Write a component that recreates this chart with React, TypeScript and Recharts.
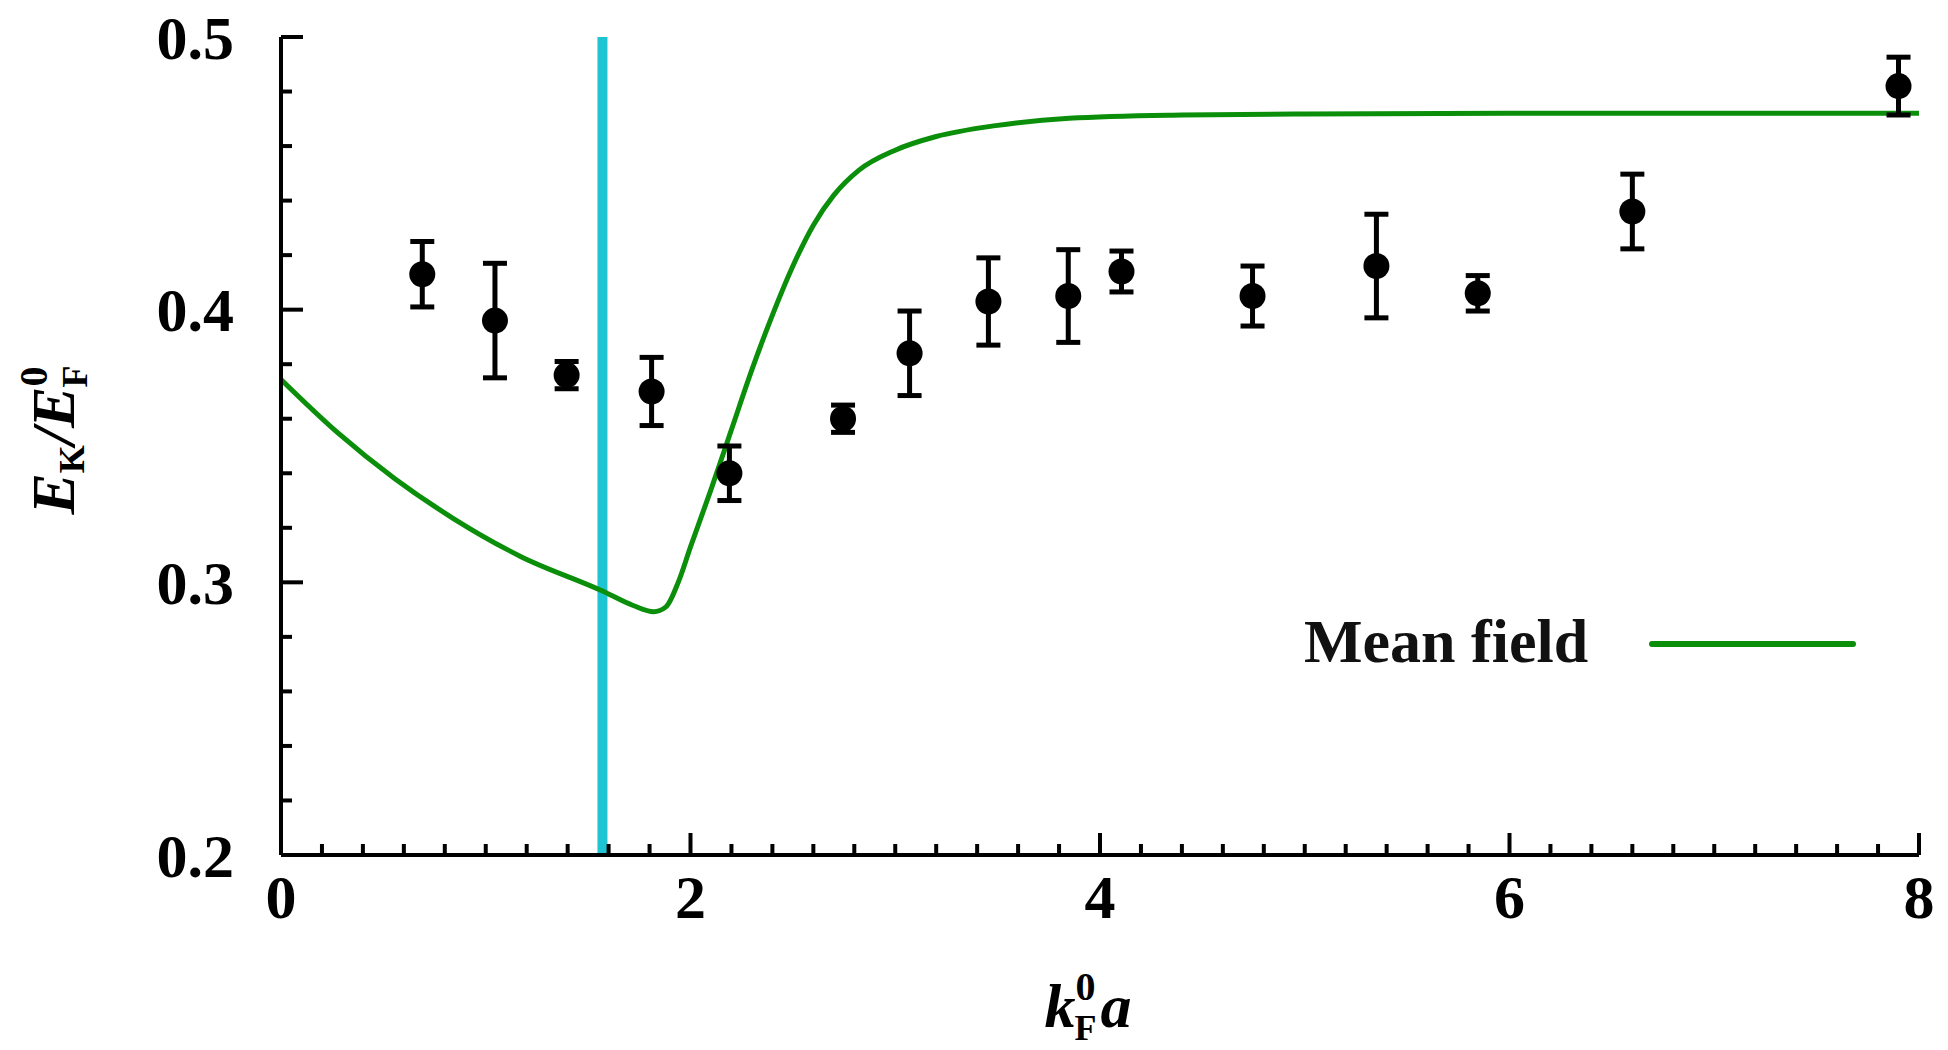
import React from "react";
import {
  ComposedChart,
  Line,
  Scatter,
  ErrorBar,
  XAxis,
  YAxis,
  ReferenceLine,
  Legend,
} from "recharts";

// mean field curve
const curveX = [0, 0.275, 0.556, 0.84, 1.17, 1.565, 1.72, 1.82, 1.88, 1.94, 2.0, 2.1, 2.2, 2.3, 2.4, 2.5, 2.6, 2.7, 2.82, 3.0, 3.2, 3.49, 3.85, 4.4, 5, 6, 7, 8];
const curveY = [0.3744, 0.355, 0.338, 0.3235, 0.3095, 0.297, 0.2915, 0.2892, 0.291, 0.3, 0.313, 0.334, 0.356, 0.378, 0.398, 0.416, 0.431, 0.442, 0.451, 0.4585, 0.4635, 0.4675, 0.4702, 0.4714, 0.4718, 0.472, 0.472, 0.472];

// QMC points with error bars
const pointX = [0.69, 1.045, 1.395, 1.81, 2.19, 2.745, 3.07, 3.455, 3.845, 4.105, 4.745, 5.35, 5.845, 6.6, 7.9];
const pointY = [0.413, 0.396, 0.376, 0.37, 0.34, 0.36, 0.384, 0.403, 0.405, 0.414, 0.405, 0.416, 0.406, 0.436, 0.482];
const pointErr = [0.012, 0.021, 0.005, 0.0125, 0.01, 0.005, 0.0155, 0.016, 0.017, 0.0075, 0.011, 0.019, 0.0065, 0.0137, 0.0106];

const unitaryX = 1.57;

const xMajor = [0, 2, 4, 6, 8];
const yMajor = [0.2, 0.3, 0.4, 0.5];
const xMinorStep = 0.2;
const yMinorStep = 0.02;

const subdivide = (major: number[], step: number) => {
  const out: number[] = [];
  const n = Math.round((major[major.length - 1] - major[0]) / step);
  for (let i = 0; i <= n; i++) out.push(+(major[0] + i * step).toFixed(4));
  return out;
};
const xTicks = subdivide(xMajor, xMinorStep);
const yTicks = subdivide(yMajor, yMinorStep);
const isMajor = (v: number, major: number[]) => major.some((m) => Math.abs(m - v) < 1e-6);

const curve = curveX.map((x, i) => ({ x, y: curveY[i] }));
const points = pointX.map((x, i) => ({ x, y: pointY[i], err: pointErr[i] }));

const FONT = "'Liberation Serif', 'Times New Roman', serif";
const FS = 62;
const MAJOR_LEN = 22;
const MINOR_LEN = 11;
const TICK_W = 4;

const BottomTick = (props: any) => {
  const { x, y, payload } = props;
  const major = isMajor(payload.value, xMajor);
  return (
    <g>
      <line x1={x} x2={x} y1={y} y2={y - (major ? MAJOR_LEN : MINOR_LEN)} stroke="#000" strokeWidth={TICK_W} />
      {major && (
        <text x={x} y={y + 41} dy="0.35em" textAnchor="middle" fontFamily={FONT} fontWeight="bold" fontSize={FS} fill="#000">
          {String(payload.value)}
        </text>
      )}
    </g>
  );
};

const TopTick = (props: any) => {
  const { x, y, payload } = props;
  const major = isMajor(payload.value, xMajor);
  return <line x1={x} x2={x} y1={y} y2={y + (major ? MAJOR_LEN : MINOR_LEN)} stroke="#000" strokeWidth={TICK_W} />;
};

const LeftTick = (props: any) => {
  const { x, y, payload } = props;
  const major = isMajor(payload.value, yMajor);
  return (
    <g>
      <line x1={x} x2={x + (major ? MAJOR_LEN : MINOR_LEN)} y1={y} y2={y} stroke="#000" strokeWidth={TICK_W} />
      {major && (
        <text x={x - 47} y={y} dy="0.35em" textAnchor="end" fontFamily={FONT} fontWeight="bold" fontSize={FS} fill="#000">
          {payload.value.toFixed(1)}
        </text>
      )}
    </g>
  );
};

const RightTick = (props: any) => {
  const { x, y, payload } = props;
  const major = isMajor(payload.value, yMajor);
  return <line x1={x} x2={x - (major ? MAJOR_LEN : MINOR_LEN)} y1={y} y2={y} stroke="#000" strokeWidth={TICK_W} />;
};

const XLabel = (props: any) => {
  const { viewBox } = props;
  const cx = viewBox.x + viewBox.width / 2 - 12;
  const y = viewBox.y + 172;
  return (
    <text x={cx} y={y} textAnchor="middle" fontFamily={FONT} fontWeight="bold" fontSize={FS} fill="#000">
      <tspan fontStyle="italic">k</tspan>
      <tspan fontSize={40} dy={-27}>0</tspan>
      <tspan fontSize={36} dx={-21} dy={40}>F</tspan>
      <tspan fontStyle="italic" dx={4} dy={-13}>a</tspan>
    </text>
  );
};

const YLabel = (props: any) => {
  const { viewBox } = props;
  const cx = viewBox.x + 46;
  const cy = viewBox.y + viewBox.height / 2 - 6;
  return (
    <g transform={`rotate(-90, ${cx}, ${cy})`}>
      <text x={cx} y={cy + 20} textAnchor="middle" fontFamily={FONT} fontWeight="bold" fontSize={FS} fill="#000">
        <tspan fontStyle="italic">E</tspan>
        <tspan fontSize={36} dy={10}>K</tspan>
        <tspan fontStyle="italic" dy={-10}>/E</tspan>
        <tspan fontSize={40} dy={-27}>0</tspan>
        <tspan fontSize={36} dx={-21} dy={40}>F</tspan>
      </text>
    </g>
  );
};

const LegendBox = () => (
  <div style={{ display: "flex", alignItems: "center", fontFamily: FONT, fontWeight: "bold", fontSize: FS, color: "#111", whiteSpace: "nowrap" }}>
    <span>Mean field</span>
    <svg width={280} height={20}>
      <line x1={64} x2={265} y1={12} y2={12} stroke="#0b8f0b" strokeWidth={6} strokeLinecap="round" />
    </svg>
  </div>
);

const Dot = (props: any) => {
  const { cx, cy } = props;
  return <circle cx={cx} cy={cy} r={13} fill="#000" />;
};

export default function App() {
  return (
    <ComposedChart
      width={1932}
      height={1042}
      margin={{ top: 29, right: 21, left: 0, bottom: 0 }}
      style={{ background: "#fff" }}
    >
      <XAxis
        xAxisId="bottom"
        type="number"
        dataKey="x"
        domain={[0, 8]}
        ticks={xTicks}
        interval={0}
        height={195}
        tickSize={0}
        tickMargin={0}
        tickLine={false}
        axisLine={{ stroke: "#000", strokeWidth: 4 }}
        tick={<BottomTick />}
        allowDataOverflow
        label={<XLabel />}
      />
      <XAxis
        xAxisId="top"
        orientation="top"
        type="number"
        dataKey="x"
        domain={[0, 8]}
        ticks={xTicks}
        interval={0}
        height={0}
        tickSize={0}
        tickMargin={0}
        tickLine={false}
        axisLine={{ stroke: "#000", strokeWidth: 4 }}
        tick={<TopTick />}
        allowDataOverflow
      />
      <YAxis
        yAxisId="left"
        type="number"
        domain={[0.2, 0.5]}
        ticks={yTicks}
        interval={0}
        width={273}
        tickSize={0}
        tickMargin={0}
        tickLine={false}
        axisLine={{ stroke: "#000", strokeWidth: 4 }}
        tick={<LeftTick />}
        allowDataOverflow
        label={<YLabel />}
      />
      <YAxis
        yAxisId="right"
        orientation="right"
        type="number"
        domain={[0.2, 0.5]}
        ticks={yTicks}
        interval={0}
        width={0}
        tickSize={0}
        tickMargin={0}
        tickLine={false}
        axisLine={{ stroke: "#000", strokeWidth: 4 }}
        tick={<RightTick />}
        allowDataOverflow
      />
      <ReferenceLine xAxisId="bottom" yAxisId="left" x={unitaryX} stroke="#1fc4d3" strokeWidth={10} />
      <Line
        xAxisId="bottom"
        yAxisId="left"
        data={curve}
        dataKey="y"
        type="monotone"
        stroke="#0b8f0b"
        strokeWidth={5}
        dot={false}
        isAnimationActive={false}
        legendType="none"
      />
      <Scatter
        xAxisId="bottom"
        yAxisId="left"
        data={points}
        dataKey="y"
        fill="#000"
        shape={<Dot />}
        isAnimationActive={false}
        legendType="none"
      >
        <ErrorBar dataKey="err" direction="y" width={12} stroke="#000" strokeWidth={5} isAnimationActive={false} />
      </Scatter>
      <Legend
        layout="vertical"
        align="center"
        verticalAlign="middle"
        content={<LegendBox />}
        wrapperStyle={{ left: 1296, top: 598, width: 620 }}
      />
    </ComposedChart>
  );
}
